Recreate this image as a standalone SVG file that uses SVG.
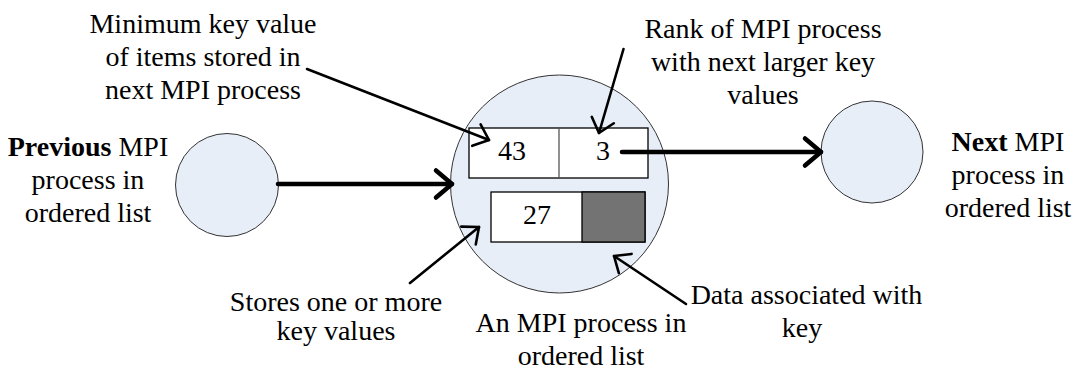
<svg xmlns="http://www.w3.org/2000/svg" width="1076" height="369" viewBox="0 0 1076 369">
<style>
text{font-family:'Liberation Serif','Times New Roman',serif;font-size:28px;fill:#000;text-anchor:middle}
.b{font-weight:bold}
.c{fill:#e8eef7;stroke:#333;stroke-width:1}
.box{fill:#fff;stroke:#000;stroke-width:1.3}
.div{stroke:#555;stroke-width:1.3}
.thick{stroke:#000;stroke-width:4.5;fill:none;stroke-linecap:round}
.thin{stroke:#000;stroke-width:2.6;fill:none;stroke-linecap:round}
</style>
<defs>
<marker id="ah" markerUnits="userSpaceOnUse" viewBox="-20 -16 24 32" refX="0" refY="0" markerWidth="24" markerHeight="32" orient="auto" overflow="visible">
<path d="M-16,-13.5 L0,0 L-16,13.5" fill="none" stroke="#000" stroke-width="4.5" stroke-linecap="round" stroke-linejoin="round"/>
</marker>
<marker id="as" markerUnits="userSpaceOnUse" viewBox="-20 -16 24 32" refX="0" refY="0" markerWidth="24" markerHeight="32" orient="auto" overflow="visible">
<path d="M-13.5,-11.5 L0,0 L-13.5,11.5" fill="none" stroke="#000" stroke-width="2.6" stroke-linecap="round" stroke-linejoin="round"/>
</marker>
</defs>
<g id="prev">
<circle class="c" cx="227" cy="185" r="51.5"/>
<text x="88" y="156"><tspan class="b">Previous</tspan> MPI</text>
<text x="88" y="189">process in</text>
<text x="88" y="222">ordered list</text>
</g>
<g id="current">
<circle class="c" cx="559.5" cy="184" r="109"/>
<rect class="box" x="469" y="128" width="179" height="50"/>
<line class="div" x1="559" y1="128" x2="559" y2="178"/>
<text x="512" y="160">43</text>
<text x="603" y="160">3</text>
<rect class="box" x="491" y="192" width="154" height="50"/>
<rect x="582" y="192" width="63" height="50" fill="#737373" stroke="#000" stroke-width="1.3"/>
<text x="537" y="224">27</text>
<text x="581" y="332">An MPI process in</text>
<text x="581" y="365">ordered list</text>
</g>
<g id="next">
<circle class="c" cx="872" cy="152" r="51"/>
<text x="1008" y="151"><tspan class="b">Next</tspan> MPI</text>
<text x="1008" y="184">process in</text>
<text x="1008" y="217">ordered list</text>
</g>
<g id="label-min">
<text x="203" y="33">Minimum key value</text>
<text x="203" y="66">of items stored in</text>
<text x="203" y="99">next MPI process</text>
</g>
<g id="label-rank">
<text x="763" y="38">Rank of MPI process</text>
<text x="763" y="71">with next larger key</text>
<text x="763" y="104">values</text>
</g>
<g id="label-stores">
<text x="336" y="311">Stores one or more</text>
<text x="336" y="340">key values</text>
</g>
<g id="label-data">
<text x="806.5" y="304">Data associated with</text>
<text x="802" y="337">key</text>
</g>
<g id="connectors">
<line class="thick" x1="278" y1="184" x2="452" y2="184" marker-end="url(#ah)"/>
<line class="thick" x1="622" y1="152" x2="821" y2="152" marker-end="url(#ah)"/>
<line class="thin" x1="307" y1="69" x2="489" y2="140" marker-end="url(#as)"/>
<line class="thin" x1="623.5" y1="49" x2="599" y2="133" marker-end="url(#as)"/>
<line class="thin" x1="410" y1="283" x2="479" y2="227" marker-end="url(#as)"/>
<line class="thin" x1="686" y1="304" x2="614" y2="256" marker-end="url(#as)"/>
</g>
</svg>
